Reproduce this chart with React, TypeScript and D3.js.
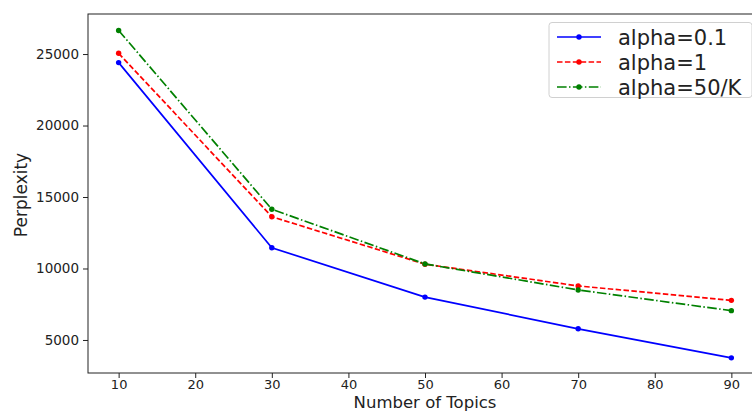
import React, { useRef, useEffect } from "react";
import * as d3 from "d3";

const topics = [10, 30, 50, 70, 90];
const alpha01 = [24400, 11450, 8000, 5780, 3750];
const alpha1 = [25050, 13620, 10300, 8780, 7770];
const alpha50K = [26650, 14140, 10320, 8500, 7050];
const xTicks = [10, 20, 30, 40, 50, 60, 70, 80, 90];
const yTicks = [5000, 10000, 15000, 20000, 25000];

const series = [
    { label: "alpha=0.1", values: alpha01, color: "#0000ff", dash: "" },
    { label: "alpha=1", values: alpha1, color: "#ff0000", dash: "5.5,2.4" },
    { label: "alpha=50/K", values: alpha50K, color: "#008000", dash: "9.6,2.4,1.5,2.4" },
];

export default function App() {
    const svgRef = useRef<SVGSVGElement>(null);

    useEffect(() => {
        const svg = d3.select(svgRef.current);
        svg.selectAll("*").remove();

        const left = 88, right = 762, top = 14, bottom = 373;
        const font = "'DejaVu Sans', sans-serif";

        const x = d3.scaleLinear().domain([6, 94]).range([left, right]);
        const y = d3.scaleLinear().domain([2690, 27800]).range([bottom, top]);

        // axes
        const xAxis = svg.append("g")
            .attr("transform", `translate(0,${bottom})`)
            .call(d3.axisBottom(x).tickValues(xTicks).tickSize(5).tickPadding(2).tickFormat(d3.format("d")));
        const yAxis = svg.append("g")
            .attr("transform", `translate(${left},0)`)
            .call(d3.axisLeft(y).tickValues(yTicks).tickSize(5).tickPadding(4).tickFormat(d3.format("d")));
        [xAxis, yAxis].forEach(a => {
            a.select(".domain").remove();
            a.selectAll("text").attr("font-family", font).attr("font-size", 13.5).attr("fill", "#222");
            a.selectAll("line").attr("stroke", "#222");
        });
        xAxis.selectAll("text").attr("font-size", 13);

        // frame
        svg.append("rect")
            .attr("x", left).attr("y", top)
            .attr("width", right - left).attr("height", bottom - top)
            .attr("fill", "none").attr("stroke", "#222").attr("stroke-width", 1);

        const line = d3.line<number>()
            .x((d, i) => x(topics[i]))
            .y(d => y(d));

        series.forEach(s => {
            svg.append("path")
                .datum(s.values)
                .attr("d", line)
                .attr("fill", "none")
                .attr("stroke", s.color)
                .attr("stroke-width", 1.7)
                .attr("stroke-dasharray", s.dash);
            svg.selectAll(null)
                .data(s.values)
                .enter()
                .append("circle")
                .attr("cx", (d, i) => x(topics[i]))
                .attr("cy", d => y(d))
                .attr("r", 2.7)
                .attr("fill", s.color);
        });

        // legend
        const lg = svg.append("g");
        lg.append("rect")
            .attr("x", 549).attr("y", 22.5)
            .attr("width", 203).attr("height", 75)
            .attr("rx", 3)
            .attr("fill", "white").attr("fill-opacity", 0.8)
            .attr("stroke", "#d0d0d0");
        series.forEach((s, i) => {
            const ly = 37 + i * 25;
            lg.append("line")
                .attr("x1", 557).attr("x2", 601)
                .attr("y1", ly).attr("y2", ly)
                .attr("stroke", s.color)
                .attr("stroke-width", 1.7)
                .attr("stroke-dasharray", s.dash);
            lg.append("circle")
                .attr("cx", 579).attr("cy", ly).attr("r", 2.7).attr("fill", s.color);
            lg.append("text")
                .attr("x", 618).attr("y", ly)
                .attr("dy", "0.36em")
                .attr("font-family", font)
                .attr("font-size", 21)
                .attr("fill", "#222")
                .text(s.label);
        });

        // labels
        svg.append("text")
            .attr("x", (left + right) / 2).attr("y", 408)
            .attr("text-anchor", "middle")
            .attr("font-family", font)
            .attr("font-size", 16.5)
            .attr("fill", "#222")
            .text("Number of Topics");
        svg.append("text")
            .attr("transform", `translate(27,195) rotate(-90)`)
            .attr("text-anchor", "middle")
            .attr("font-family", font)
            .attr("font-size", 17)
            .attr("fill", "#222")
            .text("Perplexity");
    }, []);

    return (
        <svg ref={svgRef} width={752} height={412}
            style={{ position: "absolute", left: 0, top: 0, background: "white" }} />
    );
}
